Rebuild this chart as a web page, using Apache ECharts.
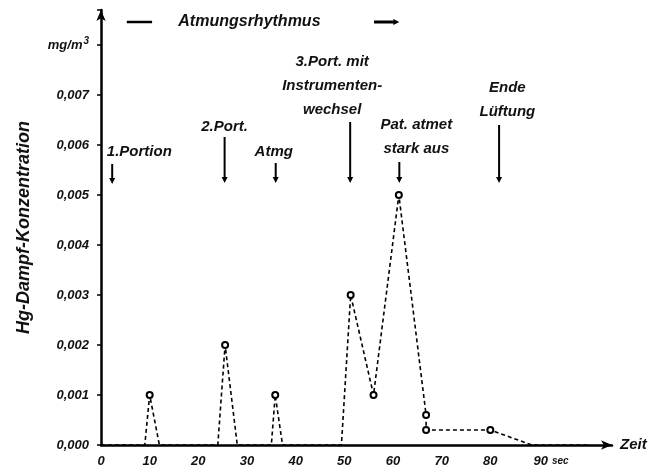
<!DOCTYPE html>
<html><head><meta charset="utf-8">
<script src="https://cdn.jsdelivr.net/npm/echarts@6/dist/echarts.min.js"></script>
<style>html,body{margin:0;padding:0;background:#fff}#c{width:664px;height:473px}</style>
</head><body><div id="c"></div>
<script>
// ---- data ----
const timeSec       = [0, 9, 10, 12, 24, 25.5, 28, 35, 35.8, 37.3, 49.4, 51.3, 56, 61.2, 66.8, 66.8, 80, 88.5, 100];
const concentration = [0, 0, 0.001, 0, 0, 0.002, 0, 0, 0.001, 0, 0, 0.003, 0.001, 0.005, 0.0006, 0.0003, 0.0003, 0, 0];
const xTickLabels = ['0','10','20','30','40','50','60','70','80','90'];
const yTickLabels = ['0,000','0,001','0,002','0,003','0,004','0,005','0,006','0,007','mg/m{s|3}'];
const titleText = 'Atmungsrhythmus';
const annotationTexts = [['1.Portion'], ['2.Port.'], ['Atmg'], ['3.Port. mit','Instrumenten-','wechsel'], ['Pat. atmet','stark aus'], ['Ende','Lüftung']];
// annotation placement in data units: text x, first-line y, arrow x, arrow top y, arrow tip y
const annotationTextX  = [1.2, 25.4, 35.5, 47.5, 64.8, 83.5];
const annotationTextY  = [0.00586, 0.00636, 0.00586, 0.00766, 0.0064, 0.00714];
const annotationAlign  = ['left','center','center','center','center','center'];
const annotationArrowX = [2.3, 25.4, 35.9, 51.2, 61.3, 81.8];
const annotationArrowTop = [0.00562, 0.00616, 0.00564, 0.00646, 0.00566, 0.0064];
const annotationArrowTip = [0.00522, 0.00524, 0.00524, 0.00524, 0.00524, 0.00524];

const FONT = '"Liberation Sans", Arial, sans-serif';
const seriesData = timeSec.map((t, i) => ({
  value: [t, concentration[i]],
  symbol: concentration[i] > 0 ? 'circle' : 'none'
}));

const chart = echarts.init(document.getElementById('c'));
chart.setOption({
  animation: false,
  backgroundColor: '#fff',
  grid: { left: 101, right: 52, top: 10, bottom: 28, containLabel: false },
  xAxis: {
    type: 'value', min: 0, max: 105, interval: 10,
    name: 'Zeit', nameLocation: 'end', nameGap: 8,
    nameTextStyle: { color: '#111', fontFamily: FONT, fontStyle: 'italic', fontWeight: 'bold', fontSize: 15, verticalAlign: 'middle' },
    axisLine: { lineStyle: { color: '#000', width: 2.5 }, symbol: ['none', 'arrow'], symbolSize: [7, 11] },
    axisTick: { show: false },
    splitLine: { show: false },
    axisLabel: {
      margin: 10, color: '#111', fontFamily: FONT, fontStyle: 'italic', fontWeight: 'bold', fontSize: 13,
      formatter: v => {
        const i = Math.round(v / 10);
        if (i >= xTickLabels.length) return '';
        if (i === xTickLabels.length - 1) return '{p|}' + xTickLabels[i] + '{s|sec}';
        return xTickLabels[i];
      },
      rich: {
        p: { width: 24 },
        s: { fontSize: 10, fontStyle: 'italic', fontWeight: 'bold', fontFamily: FONT, color: '#111', padding: [0, 0, 0, 4] }
      }
    }
  },
  yAxis: {
    type: 'value', min: 0, max: 0.0087, interval: 0.001,
    name: 'Hg-Dampf-Konzentration', nameLocation: 'middle', nameGap: 68, nameRotate: 90,
    nameTextStyle: { color: '#111', fontFamily: FONT, fontStyle: 'italic', fontWeight: 'bold', fontSize: 18 },
    axisLine: { show: true, lineStyle: { color: '#000', width: 2.5 }, symbol: ['none', 'arrow'], symbolSize: [7, 11] },
    axisTick: { show: true, length: 4, lineStyle: { color: '#000', width: 1.5 } },
    splitLine: { show: false },
    axisLabel: {
      margin: 12, color: '#111', fontFamily: FONT, fontStyle: 'italic', fontWeight: 'bold', fontSize: 13,
      formatter: v => {
        const i = Math.round(v * 1000);
        return i < yTickLabels.length ? yTickLabels[i] : '';
      },
      rich: {
        s: { fontSize: 10, fontStyle: 'italic', fontWeight: 'bold', fontFamily: FONT, color: '#111', padding: [0, 0, 8, 1] }
      }
    }
  },
  series: [{
    type: 'line',
    data: seriesData,
    symbolSize: 6,
    itemStyle: { color: '#fff', borderColor: '#000', borderWidth: 2 },
    lineStyle: { color: '#000', width: 1.6, type: [4, 3] },
    z: 1
  }]
});

function px(x, y) { return chart.convertToPixel({ gridIndex: 0 }, [x, y]); }
const g = [];
const textStyle = (txt, align) => ({ text: txt, fill: '#111', fontFamily: FONT, fontStyle: 'italic', fontWeight: 'bold', fontSize: 15, align: align, verticalAlign: 'middle' });
annotationTexts.forEach((lines, k) => {
  const p = px(annotationTextX[k], annotationTextY[k]);
  lines.forEach((ln, j) => {
    g.push({ type: 'text', x: p[0], y: p[1] + j * 24, style: textStyle(ln, annotationAlign[k]) });
  });
  const a = px(annotationArrowX[k], annotationArrowTop[k]);
  const b = px(annotationArrowX[k], annotationArrowTip[k]);
  g.push({ type: 'line', shape: { x1: a[0], y1: a[1], x2: b[0], y2: b[1] - 4 }, style: { stroke: '#000', lineWidth: 2 } });
  g.push({ type: 'polygon', shape: { points: [[b[0] - 3, b[1] - 6], [b[0] + 3, b[1] - 6], [b[0], b[1]]] }, style: { fill: '#000' } });
});
// breathing-rhythm header
const tp = px(30.5, 0.00846);
g.push({ type: 'text', x: tp[0], y: tp[1], style: Object.assign(textStyle(titleText, 'center'), { fontSize: 16 }) });
const l1 = px(5.3, 0.00846), l2 = px(10.5, 0.00846);
g.push({ type: 'line', shape: { x1: l1[0], y1: l1[1], x2: l2[0], y2: l2[1] }, style: { stroke: '#000', lineWidth: 2.5 } });
const r1 = px(56.1, 0.00846), r2 = px(61.3, 0.00846);
g.push({ type: 'line', shape: { x1: r1[0], y1: r1[1], x2: r2[0] - 4, y2: r2[1] }, style: { stroke: '#000', lineWidth: 3 } });
g.push({ type: 'polygon', shape: { points: [[r2[0] - 6, r2[1] - 3], [r2[0] - 6, r2[1] + 3], [r2[0], r2[1]]] }, style: { fill: '#000' } });
chart.setOption({ graphic: g });
</script>
</body></html>
